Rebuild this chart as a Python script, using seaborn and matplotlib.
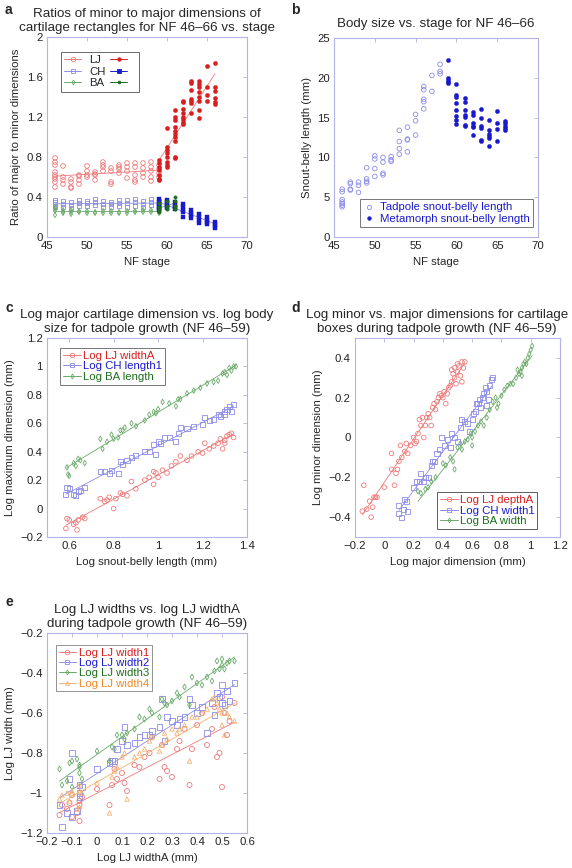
import matplotlib
matplotlib.use("Agg")
import matplotlib.pyplot as plt
from matplotlib.lines import Line2D
from matplotlib.ticker import FuncFormatter
import seaborn as sns
import numpy as np

# ---- panel a: ratio of minor to major dimension per NF stage ----
lj_tad = {46: [0.79, 0.75, 0.72, 0.65, 0.62, 0.6, 0.58, 0.55, 0.5], 47: [0.71, 0.6, 0.57, 0.53],
          48: [0.58, 0.55, 0.5, 0.49], 49: [0.62, 0.61, 0.57, 0.53], 50: [0.71, 0.66, 0.62, 0.6],
          51: [0.65, 0.63, 0.62, 0.57], 52: [0.75, 0.72, 0.7, 0.66], 53: [0.69, 0.66, 0.55, 0.53],
          54: [0.72, 0.7, 0.68, 0.64], 55: [0.74, 0.7, 0.66, 0.59], 56: [0.74, 0.7, 0.62, 0.57, 0.55],
          57: [0.74, 0.69, 0.64, 0.6], 58: [0.75, 0.7, 0.66, 0.6, 0.56], 59: [0.72, 0.68, 0.64, 0.6]}
lj_met = {59: [0.77, 0.74, 0.7, 0.67, 0.62, 0.58, 0.57], 60: [1.09, 0.9, 0.87, 0.84, 0.8, 0.75, 0.72, 0.7],
          61: [1.27, 1.2, 1.17, 1.1, 1.06, 1.03, 1.0, 0.96, 0.8, 0.79],
          62: [1.36, 1.35, 1.28, 1.24, 1.2, 1.18, 1.15, 1.13], 63: [1.56, 1.54, 1.47, 1.38, 1.36, 1.34, 1.24],
          64: [1.56, 1.53, 1.5, 1.45, 1.4, 1.36, 1.27, 1.19], 65: [1.71, 1.5, 1.42, 1.36],
          66: [1.74, 1.5, 1.46, 1.39, 1.35, 1.33]}
ch_tad = {46: [0.37, 0.35, 0.33, 0.31, 0.3], 47: [0.36, 0.33, 0.3], 48: [0.35, 0.32, 0.29],
          49: [0.37, 0.34, 0.31], 50: [0.36, 0.34, 0.31], 51: [0.38, 0.35, 0.32], 52: [0.36, 0.33, 0.3],
          53: [0.35, 0.33, 0.3], 54: [0.37, 0.34, 0.31], 55: [0.37, 0.34, 0.3], 56: [0.38, 0.35, 0.31],
          57: [0.36, 0.33, 0.3], 58: [0.38, 0.35, 0.32], 59: [0.36, 0.33, 0.3]}
ch_met = {59: [0.38, 0.35, 0.33, 0.31, 0.29, 0.27], 60: [0.37, 0.35, 0.33, 0.31, 0.29],
          61: [0.35, 0.32, 0.3, 0.28], 62: [0.33, 0.3, 0.27, 0.25, 0.2], 63: [0.27, 0.24, 0.22, 0.19],
          64: [0.23, 0.2, 0.17, 0.14], 65: [0.2, 0.17, 0.15, 0.13], 66: [0.15, 0.13, 0.11, 0.09]}
ba_tad = {46: [0.3, 0.28, 0.26, 0.22], 47: [0.27, 0.25, 0.24], 48: [0.27, 0.25, 0.23], 49: [0.26, 0.25],
          50: [0.26, 0.24], 51: [0.25, 0.24], 52: [0.26, 0.24], 53: [0.26, 0.24], 54: [0.25, 0.24],
          55: [0.26, 0.24], 56: [0.26, 0.25], 57: [0.27, 0.25], 58: [0.27, 0.25], 59: [0.28, 0.26, 0.24]}
ba_met = {59: [0.34, 0.3, 0.27, 0.25], 60: [0.36, 0.31, 0.28], 61: [0.4, 0.36, 0.31, 0.28]}

# ---- panel b: snout-belly length (mm) per stage ----
sbl_tad = {46: [6.0, 5.7, 4.7, 4.4, 4.2, 4.0, 3.8], 47: [6.9, 6.7, 6.0, 5.9], 48: [6.9, 6.5, 5.6],
           49: [8.7, 7.3, 7.0, 6.8], 50: [10.2, 9.8, 8.6, 7.6], 51: [10.0, 9.4, 8.0, 7.8],
           52: [10.1, 9.7, 9.5], 53: [13.4, 12.0, 11.1, 10.4], 54: [13.8, 12.3, 12.2, 10.7],
           55: [15.4, 14.6, 12.8], 56: [18.9, 18.5, 17.3, 17.0, 16.1], 57: [20.3, 18.3],
           58: [21.7, 20.8, 20.5]}
sbl_met = {59: [22.2, 20.0, 19.7, 19.5, 19.3], 60: [19.2, 17.8, 17.6, 16.8, 16.0, 15.2, 14.7, 14.2],
           61: [17.4, 17.0, 16.0, 15.3, 15.1, 14.1, 13.9], 62: [15.7, 15.3, 14.3, 14.0, 13.8, 12.8],
           63: [16.1, 15.0, 13.9, 13.7, 12.2, 12.0], 64: [14.7, 13.4, 12.9, 12.7, 12.5, 11.4],
           65: [15.8, 14.3, 13.6, 12.1], 66: [14.6, 14.3, 14.0, 13.7, 13.5]}

# ---- panel c: log major dimension vs log snout-belly length ----
c_lj_x = [0.585, 0.59, 0.6, 0.62, 0.63, 0.635, 0.64, 0.66, 0.67, 0.74, 0.76, 0.77, 0.78, 0.8, 0.81, 0.83,
          0.84, 0.86, 0.88, 0.9, 0.94, 0.96, 0.98, 0.98, 0.99, 1.0, 1.02, 1.04, 1.06, 1.08, 1.1, 1.13, 1.15,
          1.18, 1.2, 1.21, 1.23, 1.25, 1.27, 1.28, 1.3, 1.3, 1.31, 1.32, 1.33, 1.34, 1.29]
c_lj_y = [-0.14, -0.07, -0.08, -0.11, -0.1, -0.15, -0.08, -0.06, -0.07, 0.07, 0.05, 0.06, 0.08, 0.0, 0.07,
          0.11, 0.1, 0.09, 0.19, 0.14, 0.2, 0.22, 0.26, 0.17, 0.25, 0.22, 0.27, 0.25, 0.3, 0.33, 0.37, 0.34,
          0.37, 0.4, 0.39, 0.46, 0.42, 0.44, 0.46, 0.49, 0.48, 0.46, 0.51, 0.52, 0.53, 0.5, 0.42]
c_ch_x = [0.585, 0.59, 0.6, 0.62, 0.63, 0.64, 0.65, 0.67, 0.74, 0.76, 0.78, 0.79, 0.82, 0.83, 0.84, 0.86,
          0.88, 0.9, 0.94, 0.96, 0.98, 0.99, 1.0, 1.01, 1.03, 1.05, 1.08, 1.09, 1.1, 1.13, 1.16, 1.2, 1.21,
          1.23, 1.25, 1.27, 1.28, 1.3, 1.3, 1.31, 1.32, 1.33, 1.34]
c_ch_y = [0.1, 0.15, 0.14, 0.1, 0.09, 0.12, 0.13, 0.15, 0.26, 0.26, 0.25, 0.27, 0.25, 0.33, 0.31, 0.34,
          0.36, 0.37, 0.4, 0.4, 0.45, 0.38, 0.47, 0.46, 0.5, 0.5, 0.47, 0.53, 0.57, 0.56, 0.58, 0.59, 0.64,
          0.62, 0.63, 0.66, 0.65, 0.68, 0.66, 0.7, 0.72, 0.68, 0.73]
c_ba_x = [0.59, 0.595, 0.6, 0.62, 0.63, 0.64, 0.65, 0.67, 0.74, 0.75, 0.77, 0.79, 0.8, 0.82, 0.83, 0.84,
          0.85, 0.88, 0.9, 0.94, 0.96, 0.98, 0.99, 1.0, 1.02, 1.05, 1.08, 1.09, 1.1, 1.13, 1.16, 1.19, 1.22,
          1.25, 1.27, 1.29, 1.3, 1.31, 1.32, 1.33, 1.34, 1.35]
c_ba_y = [0.29, 0.24, 0.23, 0.32, 0.3, 0.35, 0.34, 0.32, 0.49, 0.42, 0.47, 0.52, 0.49, 0.5, 0.55, 0.55,
          0.57, 0.6, 0.58, 0.62, 0.66, 0.68, 0.67, 0.7, 0.75, 0.74, 0.72, 0.77, 0.77, 0.81, 0.83, 0.85, 0.88,
          0.89, 0.9, 0.95, 0.96, 0.94, 0.99, 0.97, 1.0, 1.0]

# ---- panel d: log minor vs log major dimension ----
d_lj_x = [-0.15, -0.14, -0.12, -0.1, -0.09, -0.08, -0.07, -0.06, -0.05, 0.0, 0.05, 0.05, 0.07, 0.08, 0.09,
          0.1, 0.11, 0.12, 0.14, 0.15, 0.16, 0.18, 0.2, 0.21, 0.22, 0.23, 0.24, 0.25, 0.26, 0.27, 0.28, 0.29,
          0.3, 0.31, 0.32, 0.33, 0.34, 0.35, 0.36, 0.37, 0.38, 0.39, 0.4, 0.41, 0.42, 0.43, 0.44, 0.45, 0.46,
          0.47, 0.48, 0.48, 0.49, 0.5, 0.5, 0.51, 0.52, 0.53, 0.54, 0.55, 0.53, 0.46]
d_lj_y = [-0.37, -0.24, -0.36, -0.32, -0.4, -0.35, -0.3, -0.3, -0.3, -0.25, -0.08, -0.16, -0.24, -0.18,
          -0.16, -0.12, -0.04, -0.1, -0.07, -0.03, -0.08, -0.04, 0.0, -0.03, -0.02, 0.02, 0.09, 0.06, 0.1, 0.0,
          0.06, 0.1, 0.12, 0.1, 0.06, 0.15, 0.17, 0.14, 0.18, 0.2, 0.22, 0.21, 0.2, 0.23, 0.17, 0.22, 0.25,
          0.26, 0.28, 0.32, 0.3, 0.35, 0.27, 0.33, 0.37, 0.36, 0.31, 0.38, 0.35, 0.38, 0.28, 0.34]
d_ch_x = [0.1, 0.1, 0.12, 0.13, 0.14, 0.15, 0.16, 0.2, 0.22, 0.24, 0.25, 0.27, 0.28, 0.3, 0.32, 0.33, 0.34,
          0.36, 0.38, 0.39, 0.41, 0.43, 0.45, 0.46, 0.48, 0.5, 0.52, 0.53, 0.55, 0.57, 0.58, 0.6, 0.61, 0.62,
          0.63, 0.64, 0.65, 0.66, 0.67, 0.68, 0.7, 0.71, 0.72, 0.73, 0.74, 0.69, 0.7]
d_ch_y = [-0.34, -0.38, -0.4, -0.36, -0.31, -0.32, -0.37, -0.25, -0.22, -0.22, -0.18, -0.22, -0.2, -0.2,
          -0.14, -0.12, -0.12, -0.08, -0.06, 0.0, -0.04, -0.01, -0.05, 0.02, 0.0, -0.02, 0.05, 0.09, 0.08,
          0.07, 0.03, 0.09, 0.12, 0.13, 0.17, 0.17, 0.19, 0.15, 0.2, 0.22, 0.23, 0.19, 0.26, 0.29, 0.3, 0.25,
          0.16]
d_ba_x = [0.23, 0.25, 0.28, 0.3, 0.32, 0.35, 0.4, 0.42, 0.45, 0.47, 0.48, 0.5, 0.52, 0.53, 0.55, 0.57, 0.59,
          0.6, 0.62, 0.64, 0.66, 0.68, 0.7, 0.72, 0.74, 0.76, 0.77, 0.78, 0.8, 0.82, 0.84, 0.86, 0.88, 0.9,
          0.91, 0.92, 0.93, 0.94, 0.95, 0.96, 0.97, 0.98, 0.99, 1.0, 1.01, 0.94, 0.6]
d_ba_y = [-0.27, -0.28, -0.26, -0.25, -0.22, -0.2, -0.13, -0.14, -0.1, -0.12, -0.16, -0.05, -0.03, -0.06,
          -0.02, -0.01, 0.02, 0.0, 0.03, 0.06, 0.08, 0.06, 0.1, 0.14, 0.18, 0.2, 0.15, 0.17, 0.21, 0.24, 0.26,
          0.27, 0.27, 0.3, 0.34, 0.32, 0.33, 0.35, 0.37, 0.38, 0.37, 0.4, 0.42, 0.44, 0.46, 0.31, -0.04]

# ---- panel e: log LJ widths vs log LJ widthA ----
e_x = [-0.15, -0.14, -0.12, -0.11, -0.1, -0.1, -0.08, -0.07, -0.07, -0.07, -0.06, 0.0, 0.05, 0.06, 0.07,
       0.08, 0.1, 0.11, 0.12, 0.15, 0.17, 0.19, 0.21, 0.22, 0.25, 0.26, 0.27, 0.28, 0.3, 0.32, 0.33, 0.35,
       0.37, 0.38, 0.4, 0.42, 0.44, 0.46, 0.47, 0.48, 0.49, 0.5, 0.5, 0.51, 0.52, 0.53, 0.55]
e_w1 = [-1.11, -1.06, -1.08, -1.05, -1.01, -1.12, -1.1, -1.06, -1.14, -1.04, -1.02, -0.98, -1.06, -0.96,
        -0.88, -0.93, -0.9, -0.95, -0.99, -0.86, -0.87, -0.82, -0.8, -0.72, -0.93, -0.76, -0.87, -0.89, -0.92,
        -0.78, -0.74, -0.68, -0.96, -0.78, -0.66, -0.6, -0.76, -0.68, -0.57, -0.82, -0.8, -0.52, -0.97, -0.6,
        -0.71, -0.64, -0.55]
e_w2 = [-1.06, -1.17, -1.1, -0.93, -1.12, -0.8, -1.09, -0.96, -1.02, -1.0, -0.97, -0.88, -0.85, -0.84,
        -0.84, -0.78, -0.74, -0.67, -0.76, -0.75, -0.72, -0.71, -0.71, -0.69, -0.67, -0.53, -0.74, -0.62,
        -0.64, -0.66, -0.63, -0.62, -0.53, -0.56, -0.6, -0.57, -0.7, -0.55, -0.61, -0.5, -0.52, -0.46, -0.55,
        -0.56, -0.49, -0.54, -0.45]
e_w3 = [-0.88, -0.96, -0.94, -0.85, -0.97, -0.84, -0.83, -0.87, -0.9, -0.86, -0.93, -0.79, -0.84, -0.77,
        -0.78, -0.71, -0.71, -0.73, -0.7, -0.68, -0.62, -0.63, -0.58, -0.6, -0.62, -0.53, -0.55, -0.56, -0.54,
        -0.5, -0.52, -0.47, -0.56, -0.42, -0.45, -0.46, -0.42, -0.44, -0.39, -0.34, -0.38, -0.33, -0.36,
        -0.38, -0.35, -0.34, -0.34]
e_w4 = [-1.03, -1.01, -1.0, -1.04, -1.0, -0.99, -1.08, -0.99, -1.07, -0.96, -1.0, -0.95, -1.1, -0.92,
        -0.89, -0.87, -0.82, -0.8, -1.03, -0.82, -0.8, -0.78, -0.74, -0.72, -0.79, -0.76, -0.7, -0.73, -0.68,
        -0.7, -0.68, -0.66, -0.84, -0.62, -0.62, -0.6, -0.58, -0.53, -0.52, -0.55, -0.58, -0.6, -0.66, -0.71,
        -0.6, -0.62, -0.64]

FRAME = "#b3b3e6"
RED_L, BLUE_L, GREEN_L, ORANGE_L = "#ee7a7a", "#8c8ce8", "#6aaa6a", "#f5b070"
RED, BLUE, GREEN, ORANGE = "#d81e1e", "#1a1acc", "#1d6e1d", "#f08a2a"
FS = 8.2     # ticks / labels / legends
TFS = 9.6    # titles

sns.set_style("white")
plt.rcParams["font.family"] = ["Liberation Sans", "DejaVu Sans"]
plt.rcParams["axes.unicode_minus"] = True


def flat(d):
    xs = [k for k, v in d.items() for _ in v]
    ys = [y for v in d.values() for y in v]
    return np.array(xs, float), np.array(ys, float)


def style_ax(ax, xlim, ylim, xticks, yticks):
    ax.set_xlim(*xlim)
    ax.set_ylim(*ylim)
    ax.set_xticks(xticks)
    ax.set_yticks(yticks)
    fmt = FuncFormatter(lambda v, p: f"{v:g}".replace("-", "\u2212"))
    ax.xaxis.set_major_formatter(fmt)
    ax.yaxis.set_major_formatter(fmt)
    for s in ax.spines.values():
        s.set_visible(True)
        s.set_color(FRAME)
        s.set_linewidth(0.8)
    ax.tick_params(direction="in", top=True, right=True, length=3, width=0.6,
                   color=FRAME, labelsize=FS, labelcolor="#222222", pad=3)


def pts(ax, x, y, color, marker, s=9, filled=False, lw=0.6):
    if filled:
        sns.scatterplot(x=x, y=y, ax=ax, marker=marker, s=s, color=color, edgecolor=color, linewidth=0.3,
                        zorder=3)
    else:
        sns.scatterplot(x=x, y=y, ax=ax, marker=marker, s=s, facecolor="none", edgecolor=color,
                        linewidth=lw, zorder=2)


def fit(ax, x, y, color):
    sns.regplot(x=np.asarray(x, float), y=np.asarray(y, float), ax=ax, scatter=False, ci=None,
                color=color, line_kws=dict(lw=0.6), truncate=True)


def handle(color, marker, filled=False, ms=3.2, line=True):
    return Line2D([], [], color=color if line else "none", lw=0.7, marker=marker, ms=ms,
                  mfc=color if filled else "none", mec=color, mew=0.6)


def frame(leg, color):
    leg.get_frame().set_edgecolor(color)
    leg.get_frame().set_linewidth(0.7)


fig = plt.figure(figsize=(5.72, 8.68), dpi=100)
H = 868.0
W = 572.0


def add_ax(l, t, r, b):
    return fig.add_axes([l / W, 1 - b / H, (r - l) / W, (b - t) / H])


ax_a = add_ax(47, 37, 247, 237)
ax_b = add_ax(334, 38, 538, 237)
ax_c = add_ax(47, 338, 247, 537)
ax_d = add_ax(355, 338, 560, 537)
ax_e = add_ax(47, 633, 247, 833)

# panel a
for d, col, mk, s in [(lj_tad, RED_L, "o", 11), (ch_tad, BLUE_L, "s", 10), (ba_tad, GREEN_L, "d", 7)]:
    x, y = flat(d)
    pts(ax_a, x, y, col, mk, s=s)
    fit(ax_a, x, y, col)
for d, col, light, mk, s in [(lj_met, RED, RED_L, "o", 9), (ch_met, BLUE, BLUE_L, "s", 10),
                             (ba_met, GREEN, GREEN_L, "o", 6)]:
    x, y = flat(d)
    pts(ax_a, x, y, col, mk, s=s, filled=True)
    fit(ax_a, x, y, light)
style_ax(ax_a, (45, 70), (0, 2), [45, 50, 55, 60, 65, 70], [0, 0.4, 0.8, 1.2, 1.6, 2])
ax_a.set_xlabel("NF stage", fontsize=FS)
ax_a.set_ylabel("Ratio of major to minor dimensions", fontsize=FS)
ax_a.set_title("Ratios of minor to major dimensions of\ncartilage rectangles for NF 46\u201366 vs. stage",
               fontsize=TFS, pad=4, linespacing=1.22)
hs = [handle(RED_L, "o"), handle(BLUE_L, "s"), handle(GREEN_L, "d", ms=2.5),
      handle(RED, "o", True, 2.5), handle(BLUE, "s", True, 2.8), handle(GREEN, "o", True, 2)]
leg = ax_a.legend(hs, ["LJ", "CH", "BA", "", "", ""], ncol=2, loc="upper left",
                  bbox_to_anchor=(0.07, 0.925), fontsize=FS, handlelength=1.5, columnspacing=0.4,
                  handletextpad=0.7, labelspacing=0.12, borderpad=0.3, borderaxespad=0,
                  frameon=True, fancybox=False)
frame(leg, "#444444")

# panel b
x, y = flat(sbl_tad)
pts(ax_b, x, y, BLUE_L, "o", s=11)
x, y = flat(sbl_met)
pts(ax_b, x, y, BLUE, "o", s=9, filled=True)
style_ax(ax_b, (45, 70), (0, 25), [45, 50, 55, 60, 65, 70], [0, 5, 10, 15, 20, 25])
ax_b.set_xlabel("NF stage", fontsize=FS)
ax_b.set_ylabel("Snout-belly length (mm)", fontsize=FS)
ax_b.set_title("Body size vs. stage for NF 46\u201366", fontsize=TFS, pad=8)
hs = [handle(BLUE_L, "o", line=False, ms=3), handle(BLUE, "o", True, ms=2.5, line=False)]
leg = ax_b.legend(hs, ["Tadpole snout-belly length", "Metamorph snout-belly length"], loc="lower right",
                  bbox_to_anchor=(0.975, 0.05), fontsize=FS, handlelength=1.0, handletextpad=0.4,
                  labelspacing=0.1, borderpad=0.3, borderaxespad=0, fancybox=False, labelcolor=BLUE)
frame(leg, "#555555")

# panel c
for x, y, col, mk, s in [(c_lj_x, c_lj_y, RED_L, "o", 11), (c_ch_x, c_ch_y, BLUE_L, "s", 13),
                         (c_ba_x, c_ba_y, GREEN_L, "d", 8)]:
    pts(ax_c, x, y, col, mk, s=s)
    fit(ax_c, x, y, col)
style_ax(ax_c, (0.5, 1.4), (-0.2, 1.2), [0.6, 0.8, 1.0, 1.2, 1.4], np.arange(-0.2, 1.21, 0.2).round(1))
ax_c.set_xlabel("Log snout-belly length (mm)", fontsize=FS)
ax_c.set_ylabel("Log maximum dimension (mm)", fontsize=FS)
ax_c.set_title("Log major cartilage dimension vs. log body\nsize for tadpole growth (NF 46\u201359)",
               fontsize=TFS, pad=4, linespacing=1.22)
hs = [handle(RED_L, "o"), handle(BLUE_L, "s"), handle(GREEN_L, "d", ms=2.5)]
leg = ax_c.legend(hs, ["Log LJ widthA", "Log CH length1", "Log BA length"], loc="upper left",
                  bbox_to_anchor=(0.065, 0.95), fontsize=FS, handlelength=1.6, handletextpad=0.15,
                  labelspacing=0.05, borderpad=0.25, borderaxespad=0, fancybox=False,
                  labelcolor=[RED, BLUE, GREEN])
frame(leg, "#555555")

# panel d
for x, y, col, mk, s in [(d_lj_x, d_lj_y, RED_L, "o", 11), (d_ch_x, d_ch_y, BLUE_L, "s", 13),
                         (d_ba_x, d_ba_y, GREEN_L, "d", 8)]:
    pts(ax_d, x, y, col, mk, s=s)
    fit(ax_d, x, y, col)
style_ax(ax_d, (-0.2, 1.2), (-0.5, 0.5), np.arange(-0.2, 1.21, 0.2).round(1), [-0.4, -0.2, 0, 0.2, 0.4])
ax_d.set_xlabel("Log major dimension (mm)", fontsize=FS)
ax_d.set_ylabel("Log minor dimension (mm)", fontsize=FS)
ax_d.set_title("Log minor vs. major dimensions for cartilage\nboxes during tadpole growth (NF 46\u201359)",
               fontsize=TFS, pad=4, linespacing=1.22, x=0.4)
hs = [handle(RED_L, "o"), handle(BLUE_L, "s"), handle(GREEN_L, "d", ms=2.5)]
leg = ax_d.legend(hs, ["Log LJ depthA", "Log CH width1", "Log BA width"], loc="lower right",
                  bbox_to_anchor=(0.89, 0.04), fontsize=FS, handlelength=1.6, handletextpad=0.15,
                  labelspacing=0.05, borderpad=0.25, borderaxespad=0, fancybox=False,
                  labelcolor=[RED, BLUE, GREEN])
frame(leg, "#333333")

# panel e
for y, col, mk, s in [(e_w1, RED_L, "o", 13), (e_w2, BLUE_L, "s", 15), (e_w3, GREEN_L, "d", 9),
                      (e_w4, ORANGE_L, "^", 10)]:
    pts(ax_e, e_x, y, col, mk, s=s)
    fit(ax_e, e_x, y, col)
style_ax(ax_e, (-0.2, 0.6), (-1.2, -0.2), np.arange(-0.2, 0.61, 0.1).round(1),
         np.arange(-1.2, -0.19, 0.2).round(1))
ax_e.set_xlabel("Log LJ widthA (mm)", fontsize=FS)
ax_e.set_ylabel("Log LJ width (mm)", fontsize=FS)
ax_e.set_title("Log LJ widths vs. log LJ widthA\nduring tadpole growth (NF 46\u201359)",
               fontsize=TFS, pad=4, linespacing=1.22)
hs = [handle(RED_L, "o"), handle(BLUE_L, "s"), handle(GREEN_L, "d", ms=2.5), handle(ORANGE_L, "^", ms=2.8)]
leg = ax_e.legend(hs, ["Log LJ width1", "Log LJ width2", "Log LJ width3", "Log LJ width4"],
                  loc="upper left", bbox_to_anchor=(0.045, 0.94), fontsize=FS, handlelength=1.5,
                  handletextpad=0.3, labelspacing=0.02, borderpad=0.25, borderaxespad=0, fancybox=False,
                  labelcolor=[RED, BLUE, GREEN, ORANGE])
frame(leg, "#777777")

for letter, xp, yp in [("a", 5, 14), ("b", 291, 14), ("c", 5, 312), ("d", 291, 312), ("e", 5, 606)]:
    fig.text(xp / W, 1 - yp / H, letter, fontsize=10, fontweight="bold", va="baseline")

fig.savefig("out.png", dpi=100)
